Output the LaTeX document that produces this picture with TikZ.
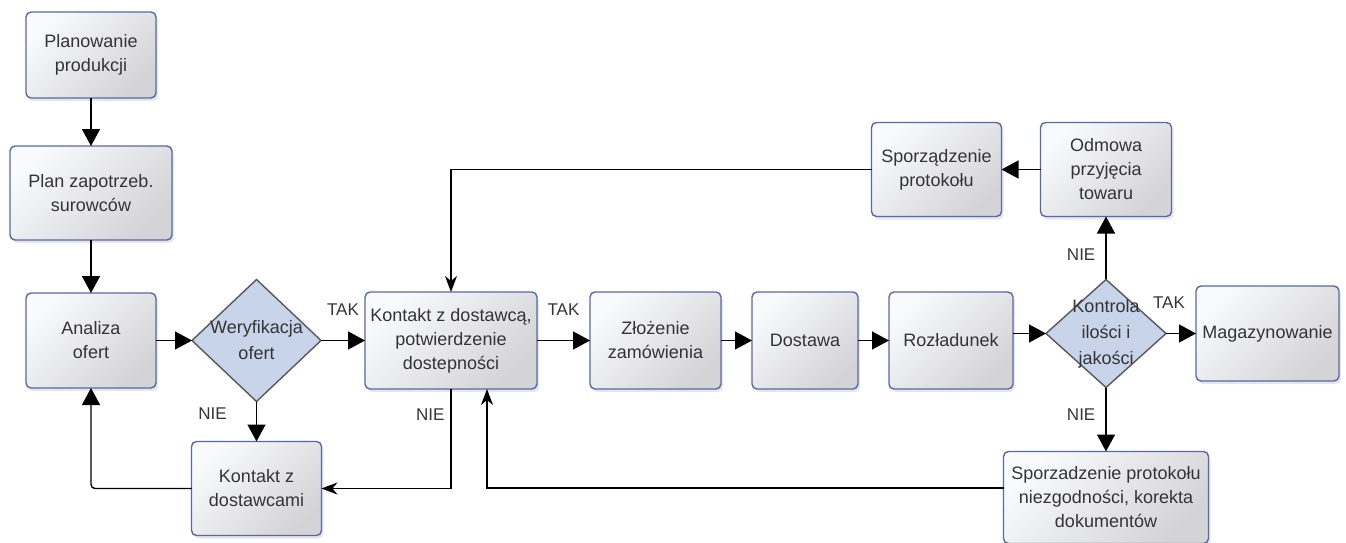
\documentclass[tikz,border=0pt]{standalone}
\usepackage{fontspec}
\setmainfont{Liberation Sans}
\usepackage{xcolor}
\usepackage{tikz}
\usetikzlibrary{positioning,shapes.geometric,arrows.meta,shadows}
\definecolor{boxline}{RGB}{88,104,168}
\definecolor{boxlight}{RGB}{249,250,252}
\definecolor{boxdark}{RGB}{212,212,214}
\definecolor{decfill}{RGB}{200,212,234}
\definecolor{decline}{RGB}{88,88,92}
\definecolor{txt}{RGB}{52,52,52}
\tikzset{proc node/.style={rectangle,rounded corners=5pt,draw=boxline,line width=1.4pt,top color=boxlight,bottom color=boxdark,shading angle=45,drop shadow={shadow xshift=2pt,shadow yshift=-3pt,opacity=.2},align=center,text=txt,font=\fontsize{18}{24}\selectfont,inner sep=0pt,outer sep=0pt},
	dec node/.style={diamond,draw=decline,fill=decfill,line width=1.4pt,inner sep=0pt,outer sep=0pt},
	dec text/.style={align=center,text=txt,font=\fontsize{18}{26}\selectfont},
	lbl/.style={text=txt,font=\fontsize{17}{20}\selectfont,inner sep=2pt},
	arr/.style={line width=1.4pt,-{Triangle[length=17pt,width=18pt]}},
	thin arr/.style={line width=1.2pt,-{Stealth[length=16pt,width=12pt,inset=5pt]}},}

\begin{document}
\begin{tikzpicture}[x=1pt,y=1pt]
	\useasboundingbox (0,0) rectangle (1346,-543);

	\node[proc node,minimum width=130pt,minimum height=86pt] (1) at (91,-55) {Planowanie\\produkcji};
	\node[proc node,minimum width=162pt,minimum height=94pt] (2) [below = 48pt of 1] {Plan zapotrzeb.\\surowców};
	\node[proc node,minimum width=130pt,minimum height=95pt] (3) [below = 53pt of 2] {Analiza\\ofert};
	\node[dec node,minimum width=129pt,minimum height=122pt,label={[dec text]center:Weryfikacja\\ofert}] (4) [right = 36pt of 3] {};
	\node[proc node,minimum width=130pt,minimum height=94pt] (5) [below = 40pt of 4] {Kontakt z\\dostawcami};
	\node[proc node,minimum width=172pt,minimum height=97pt] (6) [right = 44pt of 4] {Kontakt z dostawcą,\\potwierdzenie\\dostepności};
	\node[proc node,minimum width=131pt,minimum height=97pt] (7) [right = 53pt of 6] {Złożenie\\zamówienia};
	\node[proc node,minimum width=106pt,minimum height=97pt] (8) [right = 31pt of 7] {Dostawa};
	\node[proc node,minimum width=124pt,minimum height=97pt] (9) [right = 31pt of 8] {Rozładunek};
	\node[dec node,minimum width=120pt,minimum height=108pt,label={[dec text]center:Kontrola\\ilości i\\jakości}] (10) [right = 33pt of 9, yshift=7pt] {};
	\node[proc node,minimum width=143pt,minimum height=95pt] (11) [right = 30pt of 10] {Magazynowanie};
	\node[proc node,minimum width=131pt,minimum height=94pt] (12) [above = 63pt of 10] {Odmowa\\przyjęcia\\towaru};
	\node[proc node,minimum width=130pt,minimum height=94pt] (13) [left = 39pt of 12] {Sporządzenie\\protokołu};
	\node[proc node,minimum width=205pt,minimum height=92pt] (14) [below = 64pt of 10] {Sporzadzenie protokołu\\niezgodności, korekta\\dokumentów};

	\path[draw,arr]
	(1) edge (2)
	(2) edge (3)
	(3) edge (4)
	(4) edge node[lbl,above=22pt] {TAK} (6)
	(4) edge node[lbl,left=27pt,pos=.3] {NIE} (5)
	(6) edge node[lbl,above=22pt] {TAK} (7)
	(7) edge (8)
	(8) edge (9)
	(10) edge node[lbl,above=22pt,pos=.1] {TAK} (11)
	(10) edge node[lbl,left=8pt,pos=.4] {NIE} (12)
	(10) edge node[lbl,left=8pt,pos=.42] {NIE} (14)
	(12) edge (13)
	;
	\draw[arr] (9.east |- 10) -- (10);
	\draw[arr,rounded corners=4pt] (5) -| (3);
	\draw[thin arr] (6) |- node[lbl,left=4pt,pos=.13] {NIE} (5);
	\draw[thin arr] (13) -| (6);
	\draw[thin arr] ([yshift=9.5pt]14.west) -| ([xshift=36pt]6.south);
\end{tikzpicture}
\end{document}
